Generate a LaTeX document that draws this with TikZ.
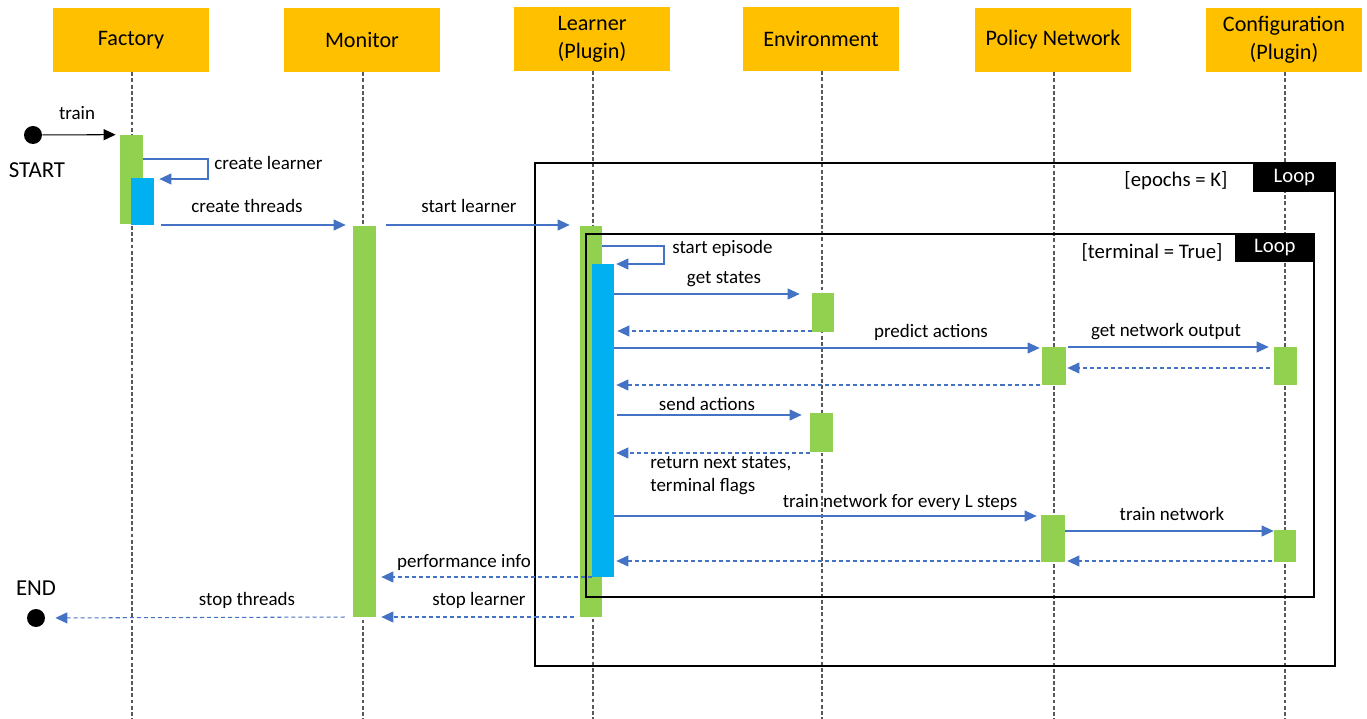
\documentclass[tikz,border=0pt]{standalone}
\usepackage{fontspec}
\setmainfont{Carlito}
\usepackage{tikz}
\usetikzlibrary{positioning}
\usetikzlibrary{arrows.meta}
\usetikzlibrary{fit}
\definecolor{hdrgold}{HTML}{FFC000}
\definecolor{actgreen}{HTML}{92D050}
\definecolor{actblue}{HTML}{00B0F0}
\definecolor{msgblue}{HTML}{4472C4}
\definecolor{lifegray}{HTML}{595959}
\tikzset{header/.style={fill=hdrgold, minimum width=3.12cm, minimum height=1.28cm, align=center, inner sep=0pt, font=\fontsize{12.6}{16}\selectfont}}
\tikzset{lifeline/.style={lifegray, line width=0.6pt, dash pattern=on 2.2pt off 1.3pt}}
\tikzset{act/.style={fill=actgreen, inner sep=0pt}}
\tikzset{sub/.style={fill=actblue, inner sep=0pt}}
\tikzset{msg/.style={msgblue, line width=0.6pt, -{Triangle[length=0.24cm,width=0.22cm]}}}
\tikzset{ret/.style={msg, dash pattern=on 2.3pt off 1.7pt}}
\tikzset{lbl/.style={inner sep=0pt, text height=7.5pt, text depth=2pt, font=\fontsize{10.8}{13}\selectfont}}
\tikzset{cond/.style={inner sep=0pt, font=\fontsize{11.8}{14}\selectfont}}
\tikzset{frame/.style={draw, line width=1.4pt, inner sep=0pt}}
\tikzset{looptab/.style={fill=black, text=white, inner sep=0pt, font=\fontsize{11.8}{14}\selectfont}}
\tikzset{dot/.style={circle, fill=black, minimum size=0.36cm, inner sep=0pt}}
\begin{document}
\begin{tikzpicture}[x=0.02cm, y=-0.02cm]
\useasboundingbox (0,0) rectangle (1367,719);
\coordinate (bot) at (0,719);
% participants and lifelines
\node[header] (fac) at (131,40) {Factory};
\node[header] (mon) at (362,40) {Monitor};
\node[header] (lrn) at (592,39) {Learner\\(Plugin)};
\node[header] (env) at (821,39) {Environment};
\node[header] (pol) at (1053,40) {Policy Network};
\node[header] (cfg) at (1284,40) {Configuration\\(Plugin)};
\foreach \p in {fac,mon,lrn,env,pol,cfg}
  \draw[lifeline] ([xshift=0.02cm]\p.south) -- ([xshift=0.02cm]\p.south |- bot);
% activation bars
\node[act, fit={(120,135) (143,224)}] (f1) {};
\node[sub, fit={(131,178) (154,225)}] (f2) {};
\node[act, fit={(353,226) (376,617)}] (m1) {};
\node[act, fit={(580,226) (602,617)}] (l1) {};
\node[sub, fit={(592,264) (614,577)}] (l2) {};
\node[act, fit={(812,293) (834,332)}] (e1) {};
\node[act, fit={(1042,347) (1066,385)}] (p1) {};
\node[act, fit={(1274,347) (1297,385)}] (c1) {};
\node[act, fit={(810,413) (833,452)}] (e2) {};
\node[act, fit={(1041,515) (1065,562)}] (p2) {};
\node[act, fit={(1274,530) (1296,562)}] (c2) {};
% loop frames
\node[frame, fit={(535,163) (1335,666)}] (outer) {};
\node[looptab, anchor=north east, minimum width=1.66cm, minimum height=0.6cm] (outertab) at (outer.north east) {Loop};
\node[cond] (epochs) at (1176,181) {[epochs = K]};
\node[frame, fit={(586,234) (1314,597)}] (inner) {};
\node[looptab, anchor=north east, minimum width=1.6cm, minimum height=0.58cm] (innertab) at (inner.north east) {Loop};
\node[cond] (term) at (1152,252) {[terminal = True]};
% start and end
\node[dot] (start) at (33,135) {};
\node[font=\fontsize{13}{15}\selectfont, inner sep=0pt] (startlbl) at (37,170) {START};
\node[dot] (end) at (36,618) {};
\node[font=\fontsize{13}{15}\selectfont, inner sep=0pt] (endlbl) at (36,588) {END};
% messages
\draw[msg, black, shorten >=0.08cm] (start) -- (f1.north west);
\node[lbl] (train) at (77,115) {train};
\draw[msg] (f1.east |- 0,159) -| (208,179) -- ([xshift=0.1cm]f2.east |- 0,179);
\node[lbl, anchor=west] (mk) at (214,165) {create learner};
\draw[msg, shorten <=0.14cm, shorten >=0.14cm] (f2.east |- 0,225) -- (m1.west |- 0,225);
\node[lbl] (threads) at (247,208) {create threads};
\draw[msg, shorten <=0.2cm, shorten >=0.2cm] (m1.east |- 0,225) -- (l1.west |- 0,225);
\node[lbl] (startl) at (469,208) {start learner};
\draw[msg] (l1.east |- 0,246) -| (664,264) -- ([xshift=0.04cm]l2.east |- 0,264);
\node[lbl, anchor=west] (episode) at (672,249) {start episode};
\draw[msg, shorten >=0.24cm] (l2.east |- 0,294) -- (e1.west |- 0,294);
\node[lbl] (getst) at (724,279) {get states};
\draw[ret, shorten >=0.06cm] (e1.west |- 0,331) -- (l2.east |- 0,331);
\draw[msg, shorten >=0.04cm] (l2.east |- 0,348) -- (p1.west |- 0,348);
\node[lbl] (predict) at (931,333) {predict actions};
\draw[msg, shorten <=0.04cm, shorten >=0.1cm] (p1.east |- 0,347) -- (c1.west |- 0,347);
\node[lbl] (netout) at (1166,332) {get network output};
\draw[ret, shorten <=0.08cm, shorten >=0.02cm] (c1.west |- 0,368) -- (p1.east |- 0,368);
\draw[ret, shorten <=0.04cm, shorten >=0.04cm] (p1.west |- 0,385) -- (l2.east |- 0,385);
\draw[msg, shorten <=0.06cm, shorten >=0.16cm] (l2.east |- 0,415) -- (e2.west |- 0,415);
\node[lbl] (send) at (707,406) {send actions};
\draw[ret, shorten >=0.04cm] (e2.west |- 0,453) -- (l2.east |- 0,453);
\node[lbl, anchor=west] (next) at (650,464) {return next states,};
\node[lbl, anchor=west] (flags) at (650,487) {terminal flags};
\draw[msg, shorten >=0.08cm] (l2.east |- 0,516) -- (p2.west |- 0,516);
\node[lbl] (trainL) at (900,503) {train network for every L steps};
\draw[msg] (p2.east |- 0,531) -- (c2.west |- 0,531);
\node[lbl] (trainnet) at (1172,516) {train network};
\draw[ret, shorten <=0.04cm, shorten >=0.04cm] (c2.west |- 0,561) -- (p2.east |- 0,561);
\draw[ret, shorten <=0.02cm, shorten >=0.04cm] (p2.west |- 0,561) -- (l2.east |- 0,561);
\draw[ret, shorten >=0.1cm] (l2.west |- 0,577) -- (m1.east |- 0,577);
\node[lbl] (perf) at (464,563) {performance info};
\draw[ret, shorten <=0.12cm, shorten >=0.1cm] (l1.west |- 0,617) -- (m1.east |- 0,617);
\node[lbl] (stopl) at (479,601) {stop learner};
\draw[ret, shorten <=0.16cm, shorten >=0.2cm] (m1.west |- 0,617) -- (end);
\node[lbl] (stopt) at (247,601) {stop threads};
\end{tikzpicture}
\end{document}
